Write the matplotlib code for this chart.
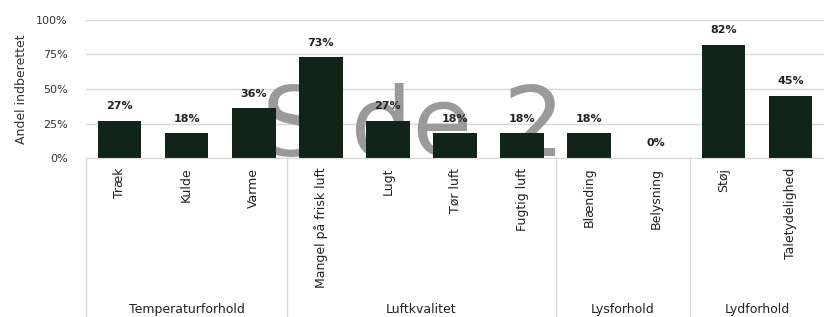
import matplotlib
matplotlib.use("Agg")
import matplotlib.pyplot as plt
import matplotlib.transforms as mtransforms

plt.rcParams['font.family'] = ['DejaVu Sans']

# data
kategorier = ["Træk", "Kulde", "Varme", "Mangel på frisk luft", "Lugt", "Tør luft",
              "Fugtig luft", "Blænding", "Belysning", "Støj", "Taletydelighed"]
andel = [27, 18, 36, 73, 27, 18, 18, 18, 0, 82, 45]
grupper = ["Temperaturforhold", "Luftkvalitet", "Lysforhold", "Lydforhold"]
gruppe_str = [3, 4, 2, 2]

fig = plt.figure(figsize=(8.24, 3.17), dpi=100)
ax = fig.add_axes([86/824, 1-158/317, 1-86/824, 138/317])

x = list(range(len(kategorier)))
ax.set_xlim(-0.5, len(kategorier) - 0.5)
ax.set_ylim(0, 100)

ax.set_yticks([0, 25, 50, 75, 100])
ax.set_yticklabels([f"{t}%" for t in [0, 25, 50, 75, 100]], fontsize=8, color="#333333")
ax.yaxis.grid(True, color="#d9d9d9", linewidth=1)
ax.set_axisbelow(True)
ax.tick_params(axis="y", length=0, pad=13)
ax.tick_params(axis="x", length=0, pad=7)
for s in ["top", "right", "left"]:
    ax.spines[s].set_visible(False)
ax.spines["bottom"].set_color("#d9d9d9")

# watermark (behind the bars, over the grid)
ax.text(413/824, 1-156/317, "Side 2", transform=fig.transFigure, fontsize=70,
        color="#9a9a9a", ha="center", va="baseline", zorder=1.5)

bars = ax.bar(x, andel, width=0.65, color="#10241a", zorder=2)
for xi, v in zip(x, andel):
    ax.text(xi, v + 7, f"{v}%", ha="center", va="bottom", fontsize=8,
            fontweight="bold", color="#222222", zorder=3)

ax.set_xticks(x)
ax.set_xticklabels(kategorier, rotation=90, fontsize=9, color="#222222", va="top")

ax.set_ylabel("Andel indberettet", fontsize=9, color="#333333", labelpad=6)

# group separators and labels
trans = mtransforms.blended_transform_factory(ax.transData, ax.transAxes)
grense = -0.5
for navn, n in zip(grupper, gruppe_str):
    ax.plot([grense, grense], [0, -159/138], transform=trans, color="#d9d9d9",
            linewidth=1, clip_on=False)
    ax.text(grense + n/2, -155/138, navn, transform=trans, ha="center", va="baseline",
            fontsize=9, color="#222222")
    grense += n

fig.savefig("out.png", dpi=100)
